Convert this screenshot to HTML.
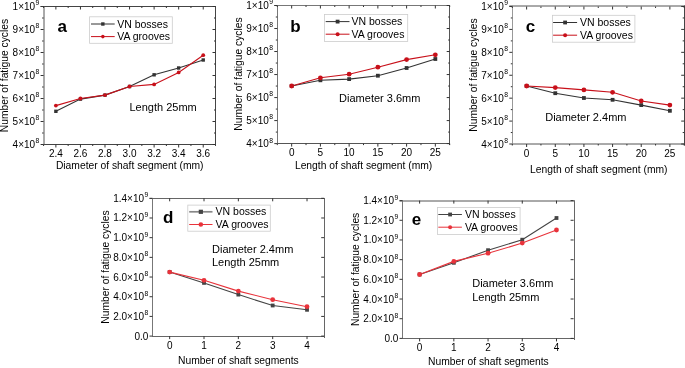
<!DOCTYPE html>
<html><head><meta charset="utf-8"><style>
html,body{margin:0;padding:0;background:#fff;}
svg{display:block;font-family:"Liberation Sans", sans-serif;}
text{filter:grayscale(1);}
</style></head><body>
<svg width="685" height="368" viewBox="0 0 685 368">
<rect width="685" height="368" fill="#fff"/>
<line x1="40.6" y1="6.5" x2="216" y2="6.5" stroke="#444" stroke-width="1" />
<line x1="43.5" y1="144.5" x2="216" y2="144.5" stroke="#444" stroke-width="1" />
<line x1="44" y1="6" x2="44" y2="145" stroke="#555" stroke-width="1" />
<line x1="215.5" y1="6" x2="215.5" y2="146" stroke="#444" stroke-width="1" />
<line x1="55.88" y1="144.5" x2="55.88" y2="147.5" stroke="#333" stroke-width="1" />
<line x1="55.88" y1="6.5" x2="55.88" y2="9.5" stroke="#333" stroke-width="1" />
<line x1="80.44" y1="144.5" x2="80.44" y2="147.5" stroke="#333" stroke-width="1" />
<line x1="80.44" y1="6.5" x2="80.44" y2="9.5" stroke="#333" stroke-width="1" />
<line x1="104.99" y1="144.5" x2="104.99" y2="147.5" stroke="#333" stroke-width="1" />
<line x1="104.99" y1="6.5" x2="104.99" y2="9.5" stroke="#333" stroke-width="1" />
<line x1="129.55" y1="144.5" x2="129.55" y2="147.5" stroke="#333" stroke-width="1" />
<line x1="129.55" y1="6.5" x2="129.55" y2="9.5" stroke="#333" stroke-width="1" />
<line x1="154.11" y1="144.5" x2="154.11" y2="147.5" stroke="#333" stroke-width="1" />
<line x1="154.11" y1="6.5" x2="154.11" y2="9.5" stroke="#333" stroke-width="1" />
<line x1="178.66" y1="144.5" x2="178.66" y2="147.5" stroke="#333" stroke-width="1" />
<line x1="178.66" y1="6.5" x2="178.66" y2="9.5" stroke="#333" stroke-width="1" />
<line x1="203.22" y1="144.5" x2="203.22" y2="147.5" stroke="#333" stroke-width="1" />
<line x1="203.22" y1="6.5" x2="203.22" y2="9.5" stroke="#333" stroke-width="1" />
<line x1="43.6" y1="144.5" x2="43.6" y2="146" stroke="#333" stroke-width="1" />
<line x1="43.6" y1="6.5" x2="43.6" y2="8" stroke="#333" stroke-width="1" />
<line x1="68.16" y1="144.5" x2="68.16" y2="146" stroke="#333" stroke-width="1" />
<line x1="68.16" y1="6.5" x2="68.16" y2="8" stroke="#333" stroke-width="1" />
<line x1="92.71" y1="144.5" x2="92.71" y2="146" stroke="#333" stroke-width="1" />
<line x1="92.71" y1="6.5" x2="92.71" y2="8" stroke="#333" stroke-width="1" />
<line x1="117.27" y1="144.5" x2="117.27" y2="146" stroke="#333" stroke-width="1" />
<line x1="117.27" y1="6.5" x2="117.27" y2="8" stroke="#333" stroke-width="1" />
<line x1="141.83" y1="144.5" x2="141.83" y2="146" stroke="#333" stroke-width="1" />
<line x1="141.83" y1="6.5" x2="141.83" y2="8" stroke="#333" stroke-width="1" />
<line x1="166.39" y1="144.5" x2="166.39" y2="146" stroke="#333" stroke-width="1" />
<line x1="166.39" y1="6.5" x2="166.39" y2="8" stroke="#333" stroke-width="1" />
<line x1="190.94" y1="144.5" x2="190.94" y2="146" stroke="#333" stroke-width="1" />
<line x1="190.94" y1="6.5" x2="190.94" y2="8" stroke="#333" stroke-width="1" />
<line x1="40.6" y1="144.5" x2="43.6" y2="144.5" stroke="#333" stroke-width="1" />
<line x1="212.5" y1="144.5" x2="215.5" y2="144.5" stroke="#333" stroke-width="1" />
<line x1="40.6" y1="121.5" x2="43.6" y2="121.5" stroke="#333" stroke-width="1" />
<line x1="212.5" y1="121.5" x2="215.5" y2="121.5" stroke="#333" stroke-width="1" />
<line x1="40.6" y1="98.5" x2="43.6" y2="98.5" stroke="#333" stroke-width="1" />
<line x1="212.5" y1="98.5" x2="215.5" y2="98.5" stroke="#333" stroke-width="1" />
<line x1="40.6" y1="75.5" x2="43.6" y2="75.5" stroke="#333" stroke-width="1" />
<line x1="212.5" y1="75.5" x2="215.5" y2="75.5" stroke="#333" stroke-width="1" />
<line x1="40.6" y1="52.5" x2="43.6" y2="52.5" stroke="#333" stroke-width="1" />
<line x1="212.5" y1="52.5" x2="215.5" y2="52.5" stroke="#333" stroke-width="1" />
<line x1="40.6" y1="29.5" x2="43.6" y2="29.5" stroke="#333" stroke-width="1" />
<line x1="212.5" y1="29.5" x2="215.5" y2="29.5" stroke="#333" stroke-width="1" />
<line x1="40.6" y1="6.5" x2="43.6" y2="6.5" stroke="#333" stroke-width="1" />
<line x1="212.5" y1="6.5" x2="215.5" y2="6.5" stroke="#333" stroke-width="1" />
<line x1="42.1" y1="133" x2="43.6" y2="133" stroke="#333" stroke-width="1" />
<line x1="214" y1="133" x2="215.5" y2="133" stroke="#333" stroke-width="1" />
<line x1="42.1" y1="110" x2="43.6" y2="110" stroke="#333" stroke-width="1" />
<line x1="214" y1="110" x2="215.5" y2="110" stroke="#333" stroke-width="1" />
<line x1="42.1" y1="87" x2="43.6" y2="87" stroke="#333" stroke-width="1" />
<line x1="214" y1="87" x2="215.5" y2="87" stroke="#333" stroke-width="1" />
<line x1="42.1" y1="64" x2="43.6" y2="64" stroke="#333" stroke-width="1" />
<line x1="214" y1="64" x2="215.5" y2="64" stroke="#333" stroke-width="1" />
<line x1="42.1" y1="41" x2="43.6" y2="41" stroke="#333" stroke-width="1" />
<line x1="214" y1="41" x2="215.5" y2="41" stroke="#333" stroke-width="1" />
<line x1="42.1" y1="18" x2="43.6" y2="18" stroke="#333" stroke-width="1" />
<line x1="214" y1="18" x2="215.5" y2="18" stroke="#333" stroke-width="1" />
<text x="55.88" y="157" font-size="10" text-anchor="middle" font-weight="normal" fill="#000" >2.4</text>
<text x="80.44" y="157" font-size="10" text-anchor="middle" font-weight="normal" fill="#000" >2.6</text>
<text x="104.99" y="157" font-size="10" text-anchor="middle" font-weight="normal" fill="#000" >2.8</text>
<text x="129.55" y="157" font-size="10" text-anchor="middle" font-weight="normal" fill="#000" >3.0</text>
<text x="154.11" y="157" font-size="10" text-anchor="middle" font-weight="normal" fill="#000" >3.2</text>
<text x="178.66" y="157" font-size="10" text-anchor="middle" font-weight="normal" fill="#000" >3.4</text>
<text x="203.22" y="157" font-size="10" text-anchor="middle" font-weight="normal" fill="#000" >3.6</text>
<text x="39.4" y="148" font-size="10" text-anchor="end">4×10<tspan dx="0.5" dy="-4.6" font-size="6.8">8</tspan></text>
<text x="39.4" y="125" font-size="10" text-anchor="end">5×10<tspan dx="0.5" dy="-4.6" font-size="6.8">8</tspan></text>
<text x="39.4" y="102" font-size="10" text-anchor="end">6×10<tspan dx="0.5" dy="-4.6" font-size="6.8">8</tspan></text>
<text x="39.4" y="79" font-size="10" text-anchor="end">7×10<tspan dx="0.5" dy="-4.6" font-size="6.8">8</tspan></text>
<text x="39.4" y="56" font-size="10" text-anchor="end">8×10<tspan dx="0.5" dy="-4.6" font-size="6.8">8</tspan></text>
<text x="39.4" y="33" font-size="10" text-anchor="end">9×10<tspan dx="0.5" dy="-4.6" font-size="6.8">8</tspan></text>
<text x="39.4" y="10" font-size="10" text-anchor="end">1×10<tspan dx="0.5" dy="-4.6" font-size="6.8">9</tspan></text>
<text x="129.7" y="168.8" font-size="10.3" text-anchor="middle" font-weight="normal" fill="#000" >Diameter of shaft segment (mm)</text>
<text transform="translate(8.2,75.5) rotate(-90)" font-size="10.3" text-anchor="middle">Number of fatigue cycles</text>
<text x="57.5" y="32.3" font-size="17" text-anchor="start" font-weight="bold" fill="#000" >a</text>
<text x="129.5" y="110.9" font-size="11" text-anchor="start" font-weight="normal" fill="#000" >Length 25mm</text>
<rect x="89.6" y="16.8" width="82.7" height="26.5" fill="#fff" stroke="#ccc" stroke-width="0.8"/>
<polyline points="55.88,111.3 80.44,99.1 104.99,95.1 129.55,86.5 154.11,74.8 178.66,68 203.22,60" fill="none" stroke="#333" stroke-width="1.1"/>
<polyline points="55.88,105.6 80.44,98.5 104.99,95.1 129.55,86.5 154.11,84.4 178.66,72.4 203.22,55.2" fill="none" stroke="#c8101a" stroke-width="1.1"/>
<rect x="54.18" y="109.6" width="3.4" height="3.4" fill="#333"/>
<rect x="78.74" y="97.4" width="3.4" height="3.4" fill="#333"/>
<rect x="103.29" y="93.4" width="3.4" height="3.4" fill="#333"/>
<rect x="127.85" y="84.8" width="3.4" height="3.4" fill="#333"/>
<rect x="152.41" y="73.1" width="3.4" height="3.4" fill="#333"/>
<rect x="176.96" y="66.3" width="3.4" height="3.4" fill="#333"/>
<rect x="201.52" y="58.3" width="3.4" height="3.4" fill="#333"/>
<circle cx="55.88" cy="105.6" r="1.9" fill="#c8101a"/>
<circle cx="80.44" cy="98.5" r="1.9" fill="#c8101a"/>
<circle cx="104.99" cy="95.1" r="1.9" fill="#c8101a"/>
<circle cx="129.55" cy="86.5" r="1.9" fill="#c8101a"/>
<circle cx="154.11" cy="84.4" r="1.9" fill="#c8101a"/>
<circle cx="178.66" cy="72.4" r="1.9" fill="#c8101a"/>
<circle cx="203.22" cy="55.2" r="1.9" fill="#c8101a"/>
<line x1="91" y1="24" x2="114.7" y2="24" stroke="#333" stroke-width="1" />
<rect x="101.15" y="22.3" width="3.4" height="3.4" fill="#333"/>
<text x="117.2" y="27.6" font-size="10.5" text-anchor="start" font-weight="normal" fill="#000" >VN bosses</text>
<line x1="91" y1="36.6" x2="114.7" y2="36.6" stroke="#c8101a" stroke-width="1" />
<circle cx="102.85" cy="36.6" r="1.8" fill="#c8101a"/>
<text x="117.2" y="40.3" font-size="10.5" text-anchor="start" font-weight="normal" fill="#000" >VA grooves</text>
<line x1="274.3" y1="5.5" x2="450" y2="5.5" stroke="#777" stroke-width="1" />
<line x1="277" y1="143.5" x2="450" y2="143.5" stroke="#555" stroke-width="1" />
<line x1="277.5" y1="5" x2="277.5" y2="144" stroke="#777" stroke-width="1" />
<line x1="449.5" y1="5" x2="449.5" y2="145" stroke="#555" stroke-width="1" />
<line x1="291.67" y1="143.6" x2="291.67" y2="146.6" stroke="#333" stroke-width="1" />
<line x1="291.67" y1="5.5" x2="291.67" y2="8.5" stroke="#333" stroke-width="1" />
<line x1="320.4" y1="143.6" x2="320.4" y2="146.6" stroke="#333" stroke-width="1" />
<line x1="320.4" y1="5.5" x2="320.4" y2="8.5" stroke="#333" stroke-width="1" />
<line x1="349.13" y1="143.6" x2="349.13" y2="146.6" stroke="#333" stroke-width="1" />
<line x1="349.13" y1="5.5" x2="349.13" y2="8.5" stroke="#333" stroke-width="1" />
<line x1="377.87" y1="143.6" x2="377.87" y2="146.6" stroke="#333" stroke-width="1" />
<line x1="377.87" y1="5.5" x2="377.87" y2="8.5" stroke="#333" stroke-width="1" />
<line x1="406.6" y1="143.6" x2="406.6" y2="146.6" stroke="#333" stroke-width="1" />
<line x1="406.6" y1="5.5" x2="406.6" y2="8.5" stroke="#333" stroke-width="1" />
<line x1="435.33" y1="143.6" x2="435.33" y2="146.6" stroke="#333" stroke-width="1" />
<line x1="435.33" y1="5.5" x2="435.33" y2="8.5" stroke="#333" stroke-width="1" />
<line x1="277.3" y1="143.6" x2="277.3" y2="145.1" stroke="#333" stroke-width="1" />
<line x1="277.3" y1="5.5" x2="277.3" y2="7" stroke="#333" stroke-width="1" />
<line x1="306.03" y1="143.6" x2="306.03" y2="145.1" stroke="#333" stroke-width="1" />
<line x1="306.03" y1="5.5" x2="306.03" y2="7" stroke="#333" stroke-width="1" />
<line x1="334.77" y1="143.6" x2="334.77" y2="145.1" stroke="#333" stroke-width="1" />
<line x1="334.77" y1="5.5" x2="334.77" y2="7" stroke="#333" stroke-width="1" />
<line x1="363.5" y1="143.6" x2="363.5" y2="145.1" stroke="#333" stroke-width="1" />
<line x1="363.5" y1="5.5" x2="363.5" y2="7" stroke="#333" stroke-width="1" />
<line x1="392.23" y1="143.6" x2="392.23" y2="145.1" stroke="#333" stroke-width="1" />
<line x1="392.23" y1="5.5" x2="392.23" y2="7" stroke="#333" stroke-width="1" />
<line x1="420.97" y1="143.6" x2="420.97" y2="145.1" stroke="#333" stroke-width="1" />
<line x1="420.97" y1="5.5" x2="420.97" y2="7" stroke="#333" stroke-width="1" />
<line x1="449.7" y1="143.6" x2="449.7" y2="145.1" stroke="#333" stroke-width="1" />
<line x1="449.7" y1="5.5" x2="449.7" y2="7" stroke="#333" stroke-width="1" />
<line x1="274.3" y1="143.6" x2="277.3" y2="143.6" stroke="#333" stroke-width="1" />
<line x1="446.7" y1="143.6" x2="449.7" y2="143.6" stroke="#333" stroke-width="1" />
<line x1="274.3" y1="120.58" x2="277.3" y2="120.58" stroke="#333" stroke-width="1" />
<line x1="446.7" y1="120.58" x2="449.7" y2="120.58" stroke="#333" stroke-width="1" />
<line x1="274.3" y1="97.57" x2="277.3" y2="97.57" stroke="#333" stroke-width="1" />
<line x1="446.7" y1="97.57" x2="449.7" y2="97.57" stroke="#333" stroke-width="1" />
<line x1="274.3" y1="74.55" x2="277.3" y2="74.55" stroke="#333" stroke-width="1" />
<line x1="446.7" y1="74.55" x2="449.7" y2="74.55" stroke="#333" stroke-width="1" />
<line x1="274.3" y1="51.53" x2="277.3" y2="51.53" stroke="#333" stroke-width="1" />
<line x1="446.7" y1="51.53" x2="449.7" y2="51.53" stroke="#333" stroke-width="1" />
<line x1="274.3" y1="28.52" x2="277.3" y2="28.52" stroke="#333" stroke-width="1" />
<line x1="446.7" y1="28.52" x2="449.7" y2="28.52" stroke="#333" stroke-width="1" />
<line x1="274.3" y1="5.5" x2="277.3" y2="5.5" stroke="#333" stroke-width="1" />
<line x1="446.7" y1="5.5" x2="449.7" y2="5.5" stroke="#333" stroke-width="1" />
<line x1="275.8" y1="132.09" x2="277.3" y2="132.09" stroke="#333" stroke-width="1" />
<line x1="448.2" y1="132.09" x2="449.7" y2="132.09" stroke="#333" stroke-width="1" />
<line x1="275.8" y1="109.07" x2="277.3" y2="109.07" stroke="#333" stroke-width="1" />
<line x1="448.2" y1="109.07" x2="449.7" y2="109.07" stroke="#333" stroke-width="1" />
<line x1="275.8" y1="86.06" x2="277.3" y2="86.06" stroke="#333" stroke-width="1" />
<line x1="448.2" y1="86.06" x2="449.7" y2="86.06" stroke="#333" stroke-width="1" />
<line x1="275.8" y1="63.04" x2="277.3" y2="63.04" stroke="#333" stroke-width="1" />
<line x1="448.2" y1="63.04" x2="449.7" y2="63.04" stroke="#333" stroke-width="1" />
<line x1="275.8" y1="40.03" x2="277.3" y2="40.03" stroke="#333" stroke-width="1" />
<line x1="448.2" y1="40.03" x2="449.7" y2="40.03" stroke="#333" stroke-width="1" />
<line x1="275.8" y1="17.01" x2="277.3" y2="17.01" stroke="#333" stroke-width="1" />
<line x1="448.2" y1="17.01" x2="449.7" y2="17.01" stroke="#333" stroke-width="1" />
<text x="291.67" y="156.1" font-size="10" text-anchor="middle" font-weight="normal" fill="#000" >0</text>
<text x="320.4" y="156.1" font-size="10" text-anchor="middle" font-weight="normal" fill="#000" >5</text>
<text x="349.13" y="156.1" font-size="10" text-anchor="middle" font-weight="normal" fill="#000" >10</text>
<text x="377.87" y="156.1" font-size="10" text-anchor="middle" font-weight="normal" fill="#000" >15</text>
<text x="406.6" y="156.1" font-size="10" text-anchor="middle" font-weight="normal" fill="#000" >20</text>
<text x="435.33" y="156.1" font-size="10" text-anchor="middle" font-weight="normal" fill="#000" >25</text>
<text x="273.1" y="147.1" font-size="10" text-anchor="end">4×10<tspan dx="0.5" dy="-4.6" font-size="6.8">8</tspan></text>
<text x="273.1" y="124.08" font-size="10" text-anchor="end">5×10<tspan dx="0.5" dy="-4.6" font-size="6.8">8</tspan></text>
<text x="273.1" y="101.07" font-size="10" text-anchor="end">6×10<tspan dx="0.5" dy="-4.6" font-size="6.8">8</tspan></text>
<text x="273.1" y="78.05" font-size="10" text-anchor="end">7×10<tspan dx="0.5" dy="-4.6" font-size="6.8">8</tspan></text>
<text x="273.1" y="55.03" font-size="10" text-anchor="end">8×10<tspan dx="0.5" dy="-4.6" font-size="6.8">8</tspan></text>
<text x="273.1" y="32.02" font-size="10" text-anchor="end">9×10<tspan dx="0.5" dy="-4.6" font-size="6.8">8</tspan></text>
<text x="273.1" y="9" font-size="10" text-anchor="end">1×10<tspan dx="0.5" dy="-4.6" font-size="6.8">9</tspan></text>
<text x="363.6" y="169.1" font-size="10.3" text-anchor="middle" font-weight="normal" fill="#000" >Length of shaft segment (mm)</text>
<text transform="translate(242,74) rotate(-90)" font-size="10.3" text-anchor="middle">Number of fatigue cycles</text>
<text x="290.3" y="32.1" font-size="17" text-anchor="start" font-weight="bold" fill="#000" >b</text>
<text x="339.1" y="102.1" font-size="11" text-anchor="start" font-weight="normal" fill="#000" >Diameter 3.6mm</text>
<rect x="324.4" y="14.4" width="83.3" height="27.1" fill="#fff" stroke="#ccc" stroke-width="0.8"/>
<polyline points="291.67,86 320.4,80.3 349.13,79.1 377.87,75.7 406.6,68 435.33,59" fill="none" stroke="#333" stroke-width="1.1"/>
<polyline points="291.67,86 320.4,77.8 349.13,74.2 377.87,67.2 406.6,59.6 435.33,54.8" fill="none" stroke="#c8101a" stroke-width="1.1"/>
<rect x="289.77" y="84.1" width="3.8" height="3.8" fill="#333"/>
<rect x="318.5" y="78.4" width="3.8" height="3.8" fill="#333"/>
<rect x="347.23" y="77.2" width="3.8" height="3.8" fill="#333"/>
<rect x="375.97" y="73.8" width="3.8" height="3.8" fill="#333"/>
<rect x="404.7" y="66.1" width="3.8" height="3.8" fill="#333"/>
<rect x="433.43" y="57.1" width="3.8" height="3.8" fill="#333"/>
<circle cx="291.67" cy="86" r="2.4" fill="#c8101a"/>
<circle cx="320.4" cy="77.8" r="2.4" fill="#c8101a"/>
<circle cx="349.13" cy="74.2" r="2.4" fill="#c8101a"/>
<circle cx="377.87" cy="67.2" r="2.4" fill="#c8101a"/>
<circle cx="406.6" cy="59.6" r="2.4" fill="#c8101a"/>
<circle cx="435.33" cy="54.8" r="2.4" fill="#c8101a"/>
<line x1="325.7" y1="21.6" x2="349.5" y2="21.6" stroke="#333" stroke-width="1" />
<rect x="335.7" y="19.7" width="3.8" height="3.8" fill="#333"/>
<text x="351.5" y="25.2" font-size="10.5" text-anchor="start" font-weight="normal" fill="#000" >VN bosses</text>
<line x1="325.7" y1="34.2" x2="349.5" y2="34.2" stroke="#c8101a" stroke-width="1" />
<circle cx="337.6" cy="34.2" r="2.0" fill="#c8101a"/>
<text x="351.5" y="38" font-size="10.5" text-anchor="start" font-weight="normal" fill="#000" >VA grooves</text>
<line x1="509.3" y1="6" x2="685" y2="6" stroke="#555" stroke-width="1" />
<line x1="512" y1="144" x2="685" y2="144" stroke="#555" stroke-width="1" />
<line x1="512.5" y1="5.5" x2="512.5" y2="144.5" stroke="#999" stroke-width="1" />
<line x1="684.5" y1="5.5" x2="684.5" y2="145.5" stroke="#444" stroke-width="1" />
<line x1="526.62" y1="144" x2="526.62" y2="147" stroke="#333" stroke-width="1" />
<line x1="526.62" y1="6.5" x2="526.62" y2="9.5" stroke="#333" stroke-width="1" />
<line x1="555.27" y1="144" x2="555.27" y2="147" stroke="#333" stroke-width="1" />
<line x1="555.27" y1="6.5" x2="555.27" y2="9.5" stroke="#333" stroke-width="1" />
<line x1="583.92" y1="144" x2="583.92" y2="147" stroke="#333" stroke-width="1" />
<line x1="583.92" y1="6.5" x2="583.92" y2="9.5" stroke="#333" stroke-width="1" />
<line x1="612.58" y1="144" x2="612.58" y2="147" stroke="#333" stroke-width="1" />
<line x1="612.58" y1="6.5" x2="612.58" y2="9.5" stroke="#333" stroke-width="1" />
<line x1="641.23" y1="144" x2="641.23" y2="147" stroke="#333" stroke-width="1" />
<line x1="641.23" y1="6.5" x2="641.23" y2="9.5" stroke="#333" stroke-width="1" />
<line x1="669.88" y1="144" x2="669.88" y2="147" stroke="#333" stroke-width="1" />
<line x1="669.88" y1="6.5" x2="669.88" y2="9.5" stroke="#333" stroke-width="1" />
<line x1="512.3" y1="144" x2="512.3" y2="145.5" stroke="#333" stroke-width="1" />
<line x1="512.3" y1="6.5" x2="512.3" y2="8" stroke="#333" stroke-width="1" />
<line x1="540.95" y1="144" x2="540.95" y2="145.5" stroke="#333" stroke-width="1" />
<line x1="540.95" y1="6.5" x2="540.95" y2="8" stroke="#333" stroke-width="1" />
<line x1="569.6" y1="144" x2="569.6" y2="145.5" stroke="#333" stroke-width="1" />
<line x1="569.6" y1="6.5" x2="569.6" y2="8" stroke="#333" stroke-width="1" />
<line x1="598.25" y1="144" x2="598.25" y2="145.5" stroke="#333" stroke-width="1" />
<line x1="598.25" y1="6.5" x2="598.25" y2="8" stroke="#333" stroke-width="1" />
<line x1="626.9" y1="144" x2="626.9" y2="145.5" stroke="#333" stroke-width="1" />
<line x1="626.9" y1="6.5" x2="626.9" y2="8" stroke="#333" stroke-width="1" />
<line x1="655.55" y1="144" x2="655.55" y2="145.5" stroke="#333" stroke-width="1" />
<line x1="655.55" y1="6.5" x2="655.55" y2="8" stroke="#333" stroke-width="1" />
<line x1="684.2" y1="144" x2="684.2" y2="145.5" stroke="#333" stroke-width="1" />
<line x1="684.2" y1="6.5" x2="684.2" y2="8" stroke="#333" stroke-width="1" />
<line x1="509.3" y1="144" x2="512.3" y2="144" stroke="#333" stroke-width="1" />
<line x1="681.2" y1="144" x2="684.2" y2="144" stroke="#333" stroke-width="1" />
<line x1="509.3" y1="121.08" x2="512.3" y2="121.08" stroke="#333" stroke-width="1" />
<line x1="681.2" y1="121.08" x2="684.2" y2="121.08" stroke="#333" stroke-width="1" />
<line x1="509.3" y1="98.17" x2="512.3" y2="98.17" stroke="#333" stroke-width="1" />
<line x1="681.2" y1="98.17" x2="684.2" y2="98.17" stroke="#333" stroke-width="1" />
<line x1="509.3" y1="75.25" x2="512.3" y2="75.25" stroke="#333" stroke-width="1" />
<line x1="681.2" y1="75.25" x2="684.2" y2="75.25" stroke="#333" stroke-width="1" />
<line x1="509.3" y1="52.33" x2="512.3" y2="52.33" stroke="#333" stroke-width="1" />
<line x1="681.2" y1="52.33" x2="684.2" y2="52.33" stroke="#333" stroke-width="1" />
<line x1="509.3" y1="29.42" x2="512.3" y2="29.42" stroke="#333" stroke-width="1" />
<line x1="681.2" y1="29.42" x2="684.2" y2="29.42" stroke="#333" stroke-width="1" />
<line x1="509.3" y1="6.5" x2="512.3" y2="6.5" stroke="#333" stroke-width="1" />
<line x1="681.2" y1="6.5" x2="684.2" y2="6.5" stroke="#333" stroke-width="1" />
<line x1="510.8" y1="132.54" x2="512.3" y2="132.54" stroke="#333" stroke-width="1" />
<line x1="682.7" y1="132.54" x2="684.2" y2="132.54" stroke="#333" stroke-width="1" />
<line x1="510.8" y1="109.62" x2="512.3" y2="109.62" stroke="#333" stroke-width="1" />
<line x1="682.7" y1="109.62" x2="684.2" y2="109.62" stroke="#333" stroke-width="1" />
<line x1="510.8" y1="86.71" x2="512.3" y2="86.71" stroke="#333" stroke-width="1" />
<line x1="682.7" y1="86.71" x2="684.2" y2="86.71" stroke="#333" stroke-width="1" />
<line x1="510.8" y1="63.79" x2="512.3" y2="63.79" stroke="#333" stroke-width="1" />
<line x1="682.7" y1="63.79" x2="684.2" y2="63.79" stroke="#333" stroke-width="1" />
<line x1="510.8" y1="40.88" x2="512.3" y2="40.88" stroke="#333" stroke-width="1" />
<line x1="682.7" y1="40.88" x2="684.2" y2="40.88" stroke="#333" stroke-width="1" />
<line x1="510.8" y1="17.96" x2="512.3" y2="17.96" stroke="#333" stroke-width="1" />
<line x1="682.7" y1="17.96" x2="684.2" y2="17.96" stroke="#333" stroke-width="1" />
<text x="526.62" y="156.5" font-size="10" text-anchor="middle" font-weight="normal" fill="#000" >0</text>
<text x="555.27" y="156.5" font-size="10" text-anchor="middle" font-weight="normal" fill="#000" >5</text>
<text x="583.92" y="156.5" font-size="10" text-anchor="middle" font-weight="normal" fill="#000" >10</text>
<text x="612.58" y="156.5" font-size="10" text-anchor="middle" font-weight="normal" fill="#000" >15</text>
<text x="641.23" y="156.5" font-size="10" text-anchor="middle" font-weight="normal" fill="#000" >20</text>
<text x="669.88" y="156.5" font-size="10" text-anchor="middle" font-weight="normal" fill="#000" >25</text>
<text x="508.1" y="147.5" font-size="10" text-anchor="end">4×10<tspan dx="0.5" dy="-4.6" font-size="6.8">8</tspan></text>
<text x="508.1" y="124.58" font-size="10" text-anchor="end">5×10<tspan dx="0.5" dy="-4.6" font-size="6.8">8</tspan></text>
<text x="508.1" y="101.67" font-size="10" text-anchor="end">6×10<tspan dx="0.5" dy="-4.6" font-size="6.8">8</tspan></text>
<text x="508.1" y="78.75" font-size="10" text-anchor="end">7×10<tspan dx="0.5" dy="-4.6" font-size="6.8">8</tspan></text>
<text x="508.1" y="55.83" font-size="10" text-anchor="end">8×10<tspan dx="0.5" dy="-4.6" font-size="6.8">8</tspan></text>
<text x="508.1" y="32.92" font-size="10" text-anchor="end">9×10<tspan dx="0.5" dy="-4.6" font-size="6.8">8</tspan></text>
<text x="508.1" y="10" font-size="10" text-anchor="end">1×10<tspan dx="0.5" dy="-4.6" font-size="6.8">9</tspan></text>
<text x="598.8" y="172.8" font-size="10.3" text-anchor="middle" font-weight="normal" fill="#000" >Length of shaft segment (mm)</text>
<text transform="translate(477,75) rotate(-90)" font-size="10.3" text-anchor="middle">Number of fatigue cycles</text>
<text x="525.8" y="32.3" font-size="17" text-anchor="start" font-weight="bold" fill="#000" >c</text>
<text x="545.2" y="120.5" font-size="11" text-anchor="start" font-weight="normal" fill="#000" >Diameter 2.4mm</text>
<rect x="552.4" y="15.3" width="82.5" height="26.9" fill="#fff" stroke="#ccc" stroke-width="0.8"/>
<polyline points="526.62,86 555.27,93.2 583.92,98 612.58,99.8 641.23,105.1 669.88,110.8" fill="none" stroke="#333" stroke-width="1.1"/>
<polyline points="526.62,86 555.27,87.6 583.92,89.9 612.58,92.3 641.23,101 669.88,105.1" fill="none" stroke="#c8101a" stroke-width="1.1"/>
<rect x="524.73" y="84.1" width="3.8" height="3.8" fill="#333"/>
<rect x="553.38" y="91.3" width="3.8" height="3.8" fill="#333"/>
<rect x="582.02" y="96.1" width="3.8" height="3.8" fill="#333"/>
<rect x="610.68" y="97.9" width="3.8" height="3.8" fill="#333"/>
<rect x="639.33" y="103.2" width="3.8" height="3.8" fill="#333"/>
<rect x="667.98" y="108.9" width="3.8" height="3.8" fill="#333"/>
<circle cx="526.62" cy="86" r="2.4" fill="#c8101a"/>
<circle cx="555.27" cy="87.6" r="2.4" fill="#c8101a"/>
<circle cx="583.92" cy="89.9" r="2.4" fill="#c8101a"/>
<circle cx="612.58" cy="92.3" r="2.4" fill="#c8101a"/>
<circle cx="641.23" cy="101" r="2.4" fill="#c8101a"/>
<circle cx="669.88" cy="105.1" r="2.4" fill="#c8101a"/>
<line x1="553.1" y1="22.5" x2="577.1" y2="22.5" stroke="#333" stroke-width="1" />
<rect x="563.2" y="20.6" width="3.8" height="3.8" fill="#333"/>
<text x="580" y="26.1" font-size="10.5" text-anchor="start" font-weight="normal" fill="#000" >VN bosses</text>
<line x1="553.1" y1="35.2" x2="577.1" y2="35.2" stroke="#c8101a" stroke-width="1" />
<circle cx="565.1" cy="35.2" r="2.0" fill="#c8101a"/>
<text x="580" y="39" font-size="10.5" text-anchor="start" font-weight="normal" fill="#000" >VA grooves</text>
<line x1="149.5" y1="198.5" x2="325" y2="198.5" stroke="#666" stroke-width="1" />
<line x1="152" y1="336.5" x2="325" y2="336.5" stroke="#666" stroke-width="1" />
<line x1="152.5" y1="198" x2="152.5" y2="337" stroke="#777" stroke-width="1" />
<line x1="324.5" y1="198" x2="324.5" y2="338" stroke="#666" stroke-width="1" />
<line x1="169.67" y1="336.1" x2="169.67" y2="339.1" stroke="#333" stroke-width="1" />
<line x1="169.67" y1="198.3" x2="169.67" y2="201.3" stroke="#333" stroke-width="1" />
<line x1="204.01" y1="336.1" x2="204.01" y2="339.1" stroke="#333" stroke-width="1" />
<line x1="204.01" y1="198.3" x2="204.01" y2="201.3" stroke="#333" stroke-width="1" />
<line x1="238.35" y1="336.1" x2="238.35" y2="339.1" stroke="#333" stroke-width="1" />
<line x1="238.35" y1="198.3" x2="238.35" y2="201.3" stroke="#333" stroke-width="1" />
<line x1="272.69" y1="336.1" x2="272.69" y2="339.1" stroke="#333" stroke-width="1" />
<line x1="272.69" y1="198.3" x2="272.69" y2="201.3" stroke="#333" stroke-width="1" />
<line x1="307.03" y1="336.1" x2="307.03" y2="339.1" stroke="#333" stroke-width="1" />
<line x1="307.03" y1="198.3" x2="307.03" y2="201.3" stroke="#333" stroke-width="1" />
<line x1="149.5" y1="336.1" x2="152.5" y2="336.1" stroke="#333" stroke-width="1" />
<line x1="321.2" y1="336.1" x2="324.2" y2="336.1" stroke="#333" stroke-width="1" />
<line x1="149.5" y1="316.41" x2="152.5" y2="316.41" stroke="#333" stroke-width="1" />
<line x1="321.2" y1="316.41" x2="324.2" y2="316.41" stroke="#333" stroke-width="1" />
<line x1="149.5" y1="296.73" x2="152.5" y2="296.73" stroke="#333" stroke-width="1" />
<line x1="321.2" y1="296.73" x2="324.2" y2="296.73" stroke="#333" stroke-width="1" />
<line x1="149.5" y1="277.04" x2="152.5" y2="277.04" stroke="#333" stroke-width="1" />
<line x1="321.2" y1="277.04" x2="324.2" y2="277.04" stroke="#333" stroke-width="1" />
<line x1="149.5" y1="257.36" x2="152.5" y2="257.36" stroke="#333" stroke-width="1" />
<line x1="321.2" y1="257.36" x2="324.2" y2="257.36" stroke="#333" stroke-width="1" />
<line x1="149.5" y1="237.67" x2="152.5" y2="237.67" stroke="#333" stroke-width="1" />
<line x1="321.2" y1="237.67" x2="324.2" y2="237.67" stroke="#333" stroke-width="1" />
<line x1="149.5" y1="217.99" x2="152.5" y2="217.99" stroke="#333" stroke-width="1" />
<line x1="321.2" y1="217.99" x2="324.2" y2="217.99" stroke="#333" stroke-width="1" />
<line x1="149.5" y1="198.3" x2="152.5" y2="198.3" stroke="#333" stroke-width="1" />
<line x1="321.2" y1="198.3" x2="324.2" y2="198.3" stroke="#333" stroke-width="1" />
<text x="169.67" y="349.1" font-size="10" text-anchor="middle" font-weight="normal" fill="#000" >0</text>
<text x="204.01" y="349.1" font-size="10" text-anchor="middle" font-weight="normal" fill="#000" >1</text>
<text x="238.35" y="349.1" font-size="10" text-anchor="middle" font-weight="normal" fill="#000" >2</text>
<text x="272.69" y="349.1" font-size="10" text-anchor="middle" font-weight="normal" fill="#000" >3</text>
<text x="307.03" y="349.1" font-size="10" text-anchor="middle" font-weight="normal" fill="#000" >4</text>
<text x="148.3" y="339.6" font-size="10" text-anchor="end" font-weight="normal" fill="#000" >0.0</text>
<text x="148.3" y="319.91" font-size="10" text-anchor="end">2.0×10<tspan dx="0.5" dy="-4.6" font-size="6.8">8</tspan></text>
<text x="148.3" y="300.23" font-size="10" text-anchor="end">4.0×10<tspan dx="0.5" dy="-4.6" font-size="6.8">8</tspan></text>
<text x="148.3" y="280.54" font-size="10" text-anchor="end">6.0×10<tspan dx="0.5" dy="-4.6" font-size="6.8">8</tspan></text>
<text x="148.3" y="260.86" font-size="10" text-anchor="end">8.0×10<tspan dx="0.5" dy="-4.6" font-size="6.8">8</tspan></text>
<text x="148.3" y="241.17" font-size="10" text-anchor="end">1.0×10<tspan dx="0.5" dy="-4.6" font-size="6.8">9</tspan></text>
<text x="148.3" y="221.49" font-size="10" text-anchor="end">1.2×10<tspan dx="0.5" dy="-4.6" font-size="6.8">9</tspan></text>
<text x="148.3" y="201.8" font-size="10" text-anchor="end">1.4×10<tspan dx="0.5" dy="-4.6" font-size="6.8">9</tspan></text>
<text x="238.4" y="363.8" font-size="10.3" text-anchor="middle" font-weight="normal" fill="#000" >Number of shaft segments</text>
<text transform="translate(109,267) rotate(-90)" font-size="10.3" text-anchor="middle">Number of fatigue cycles</text>
<text x="163" y="223.1" font-size="17" text-anchor="start" font-weight="bold" fill="#000" >d</text>
<text x="212" y="252.8" font-size="11" text-anchor="start" font-weight="normal" fill="#000" >Diameter 2.4mm</text>
<text x="212" y="266" font-size="11" text-anchor="start" font-weight="normal" fill="#000" >Length 25mm</text>
<rect x="187.8" y="205.1" width="82.5" height="26.1" fill="#fff" stroke="#ccc" stroke-width="0.8"/>
<polyline points="169.67,272.1 204.01,282.9 238.35,294.6 272.69,305.5 307.03,309.8" fill="none" stroke="#444" stroke-width="1.1"/>
<polyline points="169.67,272.1 204.01,280.3 238.35,291.1 272.69,299.7 307.03,306.7" fill="none" stroke="#e8333b" stroke-width="1.1"/>
<rect x="167.77" y="270.2" width="3.8" height="3.8" fill="#444"/>
<rect x="202.11" y="281" width="3.8" height="3.8" fill="#444"/>
<rect x="236.45" y="292.7" width="3.8" height="3.8" fill="#444"/>
<rect x="270.79" y="303.6" width="3.8" height="3.8" fill="#444"/>
<rect x="305.13" y="307.9" width="3.8" height="3.8" fill="#444"/>
<circle cx="169.67" cy="272.1" r="2.4" fill="#e8333b"/>
<circle cx="204.01" cy="280.3" r="2.4" fill="#e8333b"/>
<circle cx="238.35" cy="291.1" r="2.4" fill="#e8333b"/>
<circle cx="272.69" cy="299.7" r="2.4" fill="#e8333b"/>
<circle cx="307.03" cy="306.7" r="2.4" fill="#e8333b"/>
<line x1="189.2" y1="211.8" x2="212.5" y2="211.8" stroke="#888" stroke-width="1.7" />
<rect x="198.75" y="209.7" width="4.2" height="4.2" fill="#444"/>
<text x="215.6" y="215.4" font-size="10.5" text-anchor="start" font-weight="normal" fill="#000" >VN bosses</text>
<line x1="189.2" y1="224.5" x2="212.5" y2="224.5" stroke="#e8333b" stroke-width="1" />
<circle cx="200.85" cy="224.5" r="2.3" fill="#e8333b"/>
<text x="215.6" y="228.4" font-size="10.5" text-anchor="start" font-weight="normal" fill="#000" >VA grooves</text>
<line x1="399.5" y1="201" x2="575" y2="201" stroke="#555" stroke-width="1" />
<line x1="402" y1="338.5" x2="575" y2="338.5" stroke="#666" stroke-width="1" />
<line x1="402.5" y1="200.5" x2="402.5" y2="339" stroke="#777" stroke-width="1" />
<line x1="574.5" y1="200.5" x2="574.5" y2="340" stroke="#666" stroke-width="1" />
<line x1="419.61" y1="338.4" x2="419.61" y2="341.4" stroke="#333" stroke-width="1" />
<line x1="419.61" y1="200.6" x2="419.61" y2="203.6" stroke="#333" stroke-width="1" />
<line x1="453.83" y1="338.4" x2="453.83" y2="341.4" stroke="#333" stroke-width="1" />
<line x1="453.83" y1="200.6" x2="453.83" y2="203.6" stroke="#333" stroke-width="1" />
<line x1="488.05" y1="338.4" x2="488.05" y2="341.4" stroke="#333" stroke-width="1" />
<line x1="488.05" y1="200.6" x2="488.05" y2="203.6" stroke="#333" stroke-width="1" />
<line x1="522.27" y1="338.4" x2="522.27" y2="341.4" stroke="#333" stroke-width="1" />
<line x1="522.27" y1="200.6" x2="522.27" y2="203.6" stroke="#333" stroke-width="1" />
<line x1="556.49" y1="338.4" x2="556.49" y2="341.4" stroke="#333" stroke-width="1" />
<line x1="556.49" y1="200.6" x2="556.49" y2="203.6" stroke="#333" stroke-width="1" />
<line x1="399.5" y1="338.4" x2="402.5" y2="338.4" stroke="#333" stroke-width="1" />
<line x1="570.6" y1="338.4" x2="573.6" y2="338.4" stroke="#333" stroke-width="1" />
<line x1="399.5" y1="318.71" x2="402.5" y2="318.71" stroke="#333" stroke-width="1" />
<line x1="570.6" y1="318.71" x2="573.6" y2="318.71" stroke="#333" stroke-width="1" />
<line x1="399.5" y1="299.03" x2="402.5" y2="299.03" stroke="#333" stroke-width="1" />
<line x1="570.6" y1="299.03" x2="573.6" y2="299.03" stroke="#333" stroke-width="1" />
<line x1="399.5" y1="279.34" x2="402.5" y2="279.34" stroke="#333" stroke-width="1" />
<line x1="570.6" y1="279.34" x2="573.6" y2="279.34" stroke="#333" stroke-width="1" />
<line x1="399.5" y1="259.66" x2="402.5" y2="259.66" stroke="#333" stroke-width="1" />
<line x1="570.6" y1="259.66" x2="573.6" y2="259.66" stroke="#333" stroke-width="1" />
<line x1="399.5" y1="239.97" x2="402.5" y2="239.97" stroke="#333" stroke-width="1" />
<line x1="570.6" y1="239.97" x2="573.6" y2="239.97" stroke="#333" stroke-width="1" />
<line x1="399.5" y1="220.29" x2="402.5" y2="220.29" stroke="#333" stroke-width="1" />
<line x1="570.6" y1="220.29" x2="573.6" y2="220.29" stroke="#333" stroke-width="1" />
<line x1="399.5" y1="200.6" x2="402.5" y2="200.6" stroke="#333" stroke-width="1" />
<line x1="570.6" y1="200.6" x2="573.6" y2="200.6" stroke="#333" stroke-width="1" />
<text x="419.61" y="351.4" font-size="10" text-anchor="middle" font-weight="normal" fill="#000" >0</text>
<text x="453.83" y="351.4" font-size="10" text-anchor="middle" font-weight="normal" fill="#000" >1</text>
<text x="488.05" y="351.4" font-size="10" text-anchor="middle" font-weight="normal" fill="#000" >2</text>
<text x="522.27" y="351.4" font-size="10" text-anchor="middle" font-weight="normal" fill="#000" >3</text>
<text x="556.49" y="351.4" font-size="10" text-anchor="middle" font-weight="normal" fill="#000" >4</text>
<text x="398.3" y="341.9" font-size="10" text-anchor="end" font-weight="normal" fill="#000" >0.0</text>
<text x="398.3" y="322.21" font-size="10" text-anchor="end">2.0×10<tspan dx="0.5" dy="-4.6" font-size="6.8">8</tspan></text>
<text x="398.3" y="302.53" font-size="10" text-anchor="end">4.0×10<tspan dx="0.5" dy="-4.6" font-size="6.8">8</tspan></text>
<text x="398.3" y="282.84" font-size="10" text-anchor="end">6.0×10<tspan dx="0.5" dy="-4.6" font-size="6.8">8</tspan></text>
<text x="398.3" y="263.16" font-size="10" text-anchor="end">8.0×10<tspan dx="0.5" dy="-4.6" font-size="6.8">8</tspan></text>
<text x="398.3" y="243.47" font-size="10" text-anchor="end">1.0×10<tspan dx="0.5" dy="-4.6" font-size="6.8">9</tspan></text>
<text x="398.3" y="223.79" font-size="10" text-anchor="end">1.2×10<tspan dx="0.5" dy="-4.6" font-size="6.8">9</tspan></text>
<text x="398.3" y="204.1" font-size="10" text-anchor="end">1.4×10<tspan dx="0.5" dy="-4.6" font-size="6.8">9</tspan></text>
<text x="488.4" y="364.6" font-size="10.3" text-anchor="middle" font-weight="normal" fill="#000" >Number of shaft segments</text>
<text transform="translate(358.5,269.4) rotate(-90)" font-size="10.3" text-anchor="middle">Number of fatigue cycles</text>
<text x="411.8" y="225.2" font-size="17" text-anchor="start" font-weight="bold" fill="#000" >e</text>
<text x="472.2" y="287.3" font-size="11" text-anchor="start" font-weight="normal" fill="#000" >Diameter 3.6mm</text>
<text x="472.2" y="300.5" font-size="11" text-anchor="start" font-weight="normal" fill="#000" >Length 25mm</text>
<rect x="437.4" y="207.4" width="82.7" height="27" fill="#fff" stroke="#ccc" stroke-width="0.8"/>
<polyline points="419.61,274.5 453.83,262.8 488.05,250.2 522.27,239.7 556.49,218" fill="none" stroke="#444" stroke-width="1.1"/>
<polyline points="419.61,274.5 453.83,261.4 488.05,253.2 522.27,243.1 556.49,230" fill="none" stroke="#e8333b" stroke-width="1.1"/>
<rect x="417.71" y="272.6" width="3.8" height="3.8" fill="#444"/>
<rect x="451.93" y="260.9" width="3.8" height="3.8" fill="#444"/>
<rect x="486.15" y="248.3" width="3.8" height="3.8" fill="#444"/>
<rect x="520.37" y="237.8" width="3.8" height="3.8" fill="#444"/>
<rect x="554.59" y="216.1" width="3.8" height="3.8" fill="#444"/>
<circle cx="419.61" cy="274.5" r="2.4" fill="#e8333b"/>
<circle cx="453.83" cy="261.4" r="2.4" fill="#e8333b"/>
<circle cx="488.05" cy="253.2" r="2.4" fill="#e8333b"/>
<circle cx="522.27" cy="243.1" r="2.4" fill="#e8333b"/>
<circle cx="556.49" cy="230" r="2.4" fill="#e8333b"/>
<line x1="438.3" y1="214.5" x2="461.9" y2="214.5" stroke="#444" stroke-width="1" />
<rect x="448.2" y="212.6" width="3.8" height="3.8" fill="#444"/>
<text x="464.9" y="218.3" font-size="10.5" text-anchor="start" font-weight="normal" fill="#000" >VN bosses</text>
<line x1="438.3" y1="227.2" x2="461.9" y2="227.2" stroke="#e8333b" stroke-width="1" />
<circle cx="450.1" cy="227.2" r="2.0" fill="#e8333b"/>
<text x="464.9" y="231.4" font-size="10.5" text-anchor="start" font-weight="normal" fill="#000" >VA grooves</text>
</svg>
</body></html>
